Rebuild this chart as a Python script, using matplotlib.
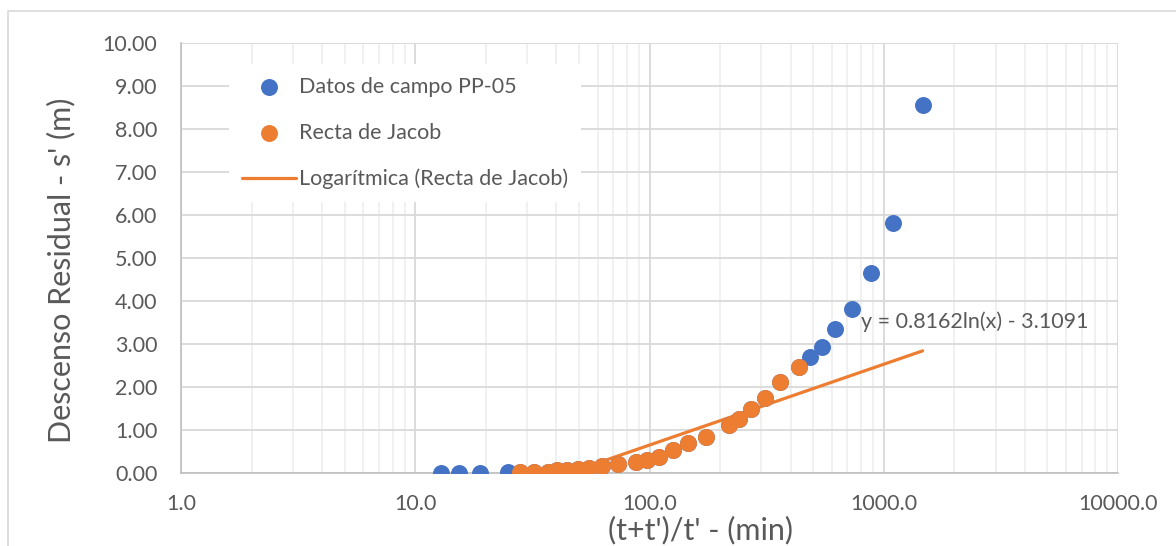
import matplotlib.pyplot as plt
import matplotlib.patches as patches
import numpy as np
from matplotlib.ticker import FixedLocator, FuncFormatter, LogLocator, NullFormatter

# field data PP-05: (t+t')/t' [min] and residual drawdown s' [m]
campo_x = [12.9, 15.4, 18.9, 24.9, 27.9, 32.1, 36.8, 40.2, 44.4, 49.4, 55.1, 62.6,
           73.3, 87.5, 97.6, 109.8, 126.1, 146.2, 174.5, 218.8, 241.5, 271.8, 312.0,
           361.6, 436.3, 486.0, 547.0, 622.0, 735.0, 878.0, 1090.0, 1465.0]
campo_y = [0.01, 0.01, 0.01, 0.02, 0.02, 0.03, 0.03, 0.06, 0.07, 0.09, 0.12, 0.16,
           0.20, 0.26, 0.30, 0.38, 0.53, 0.69, 0.83, 1.12, 1.25, 1.48, 1.74,
           2.11, 2.47, 2.69, 2.94, 3.36, 3.81, 4.64, 5.81, 8.56]

# points used for the Jacob straight line
jacob_x = campo_x[4:25]
jacob_y = campo_y[4:25]

# logarithmic trendline shown in the chart
a_coef = 0.8162
b_coef = -3.1091

blue = '#4472C4'
orange = '#ED7D31'
grey_txt = '#595959'

plt.rcParams['font.family'] = ['Lato', 'DejaVu Sans']

fig = plt.figure(figsize=(11.76, 5.46), dpi=100)
ax = fig.add_axes([181 / 1176, 1 - 473 / 546, 937 / 1176, 430 / 546])

# outer chart frame
fig.patches.append(patches.Rectangle((8 / 1176, -0.2), 1.2, 1.2 - 10.5 / 546,
                                     transform=fig.transFigure, fill=False,
                                     edgecolor='#d9d9d9', linewidth=1.2))

xs = np.logspace(np.log10(min(jacob_x)), np.log10(max(campo_x)), 200)
ax.plot(xs, a_coef * np.log(xs) + b_coef, color=orange, linewidth=2.3,
        solid_capstyle='round', zorder=2, label='Logarítmica (Recta de Jacob)')
ax.scatter(campo_x, campo_y, s=125, color=blue, zorder=3, label='Datos de campo PP-05')
ax.scatter(jacob_x, jacob_y, s=125, color=orange, zorder=4, label='Recta de Jacob')

ax.set_xscale('log')
ax.set_xlim(1, 10000)
ax.set_ylim(0, 10)

ax.xaxis.set_major_locator(FixedLocator([1, 10, 100, 1000, 10000]))
ax.xaxis.set_major_formatter(FuncFormatter(lambda v, p: '%.1f' % v))
ax.xaxis.set_minor_locator(LogLocator(base=10, subs=np.arange(2, 10)))
ax.xaxis.set_minor_formatter(NullFormatter())
ax.set_yticks(np.arange(0, 10.5, 1))
ax.yaxis.set_major_formatter(FuncFormatter(lambda v, p: '%.2f' % v))

ax.grid(True, which='major', axis='both', color='#d9d9d9', linewidth=1.3)
ax.grid(True, which='minor', axis='x', color='#efefef', linewidth=1.3)
ax.set_axisbelow(True)

for side in ['top', 'right']:
    ax.spines[side].set_visible(False)
for side in ['left', 'bottom']:
    ax.spines[side].set_color('#bfbfbf')
    ax.spines[side].set_linewidth(1.2)

ax.tick_params(axis='both', which='both', length=0, colors=grey_txt, labelsize=15.5)
ax.tick_params(axis='y', pad=17)
ax.tick_params(axis='x', pad=15)

ax.set_ylabel("Descenso Residual - s' (m)", fontsize=22, color=grey_txt)
ax.yaxis.set_label_coords(-0.1125, 0.471)
# the original crops this label at the bottom edge; keep it just inside
ax.set_xlabel("(t+t')/t' - (min)", fontsize=22, color=grey_txt, va='bottom')
ax.xaxis.set_label_coords(0.554, -0.1665)

ax.text(803, 3.53, 'y = 0.8162ln(x) - 3.1091', fontsize=15.5, color=grey_txt, va='center')

handles, labels = ax.get_legend_handles_labels()
order = [1, 2, 0]
leg = ax.legend([handles[i] for i in order], [labels[i] for i in order],
                loc='upper left', bbox_to_anchor=(0.0512, 0.952), borderaxespad=0,
                fontsize=15.5, frameon=True, fancybox=False, framealpha=1,
                edgecolor='none', facecolor='white', labelspacing=1.21,
                handlelength=2.5, handletextpad=0.15, borderpad=0.6)
for t in leg.get_texts():
    t.set_color(grey_txt)

fig.savefig('out.png', dpi=100)
